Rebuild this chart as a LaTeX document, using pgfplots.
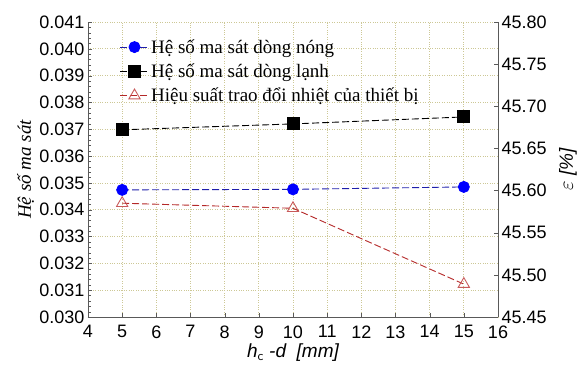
\documentclass[border=0pt]{standalone}
\usepackage{pgfplots}
\pgfplotsset{compat=1.18}
\usepackage{fontspec}
\setmainfont{Liberation Sans}
\newfontfamily\serif{Liberation Serif}
\definecolor{gridc}{RGB}{205,200,150}
\definecolor{bluel}{RGB}{30,30,170}
\definecolor{redl}{RGB}{180,40,40}
\definecolor{redm}{RGB}{200,90,90}
\begin{document}
\begin{tikzpicture}
\begin{axis}[
  at={(0,0)}, anchor=south west,
  scale only axis, width=410bp, height=295bp,
  xmin=4, xmax=16, ymin=0.030, ymax=0.041,
  xtick={4,...,16},
  ytick={0.030,0.031,...,0.0411},
  minor y tick num=4,
  axis y line*=left,
  axis x line*=bottom,
  tick align=inside,
  grid=major,
  major grid style={gridc, dotted, line width=0.8pt},
  axis line style={gray!70!black},
  tick style={gray!70!black},
  /pgf/number format/assume math mode=true,
  yticklabel style={/pgf/number format/.cd, fixed, fixed zerofill, precision=3},
  scaled y ticks=false,
  ticklabel style={font=\fontsize{18bp}{18bp}\selectfont},
  xticklabel style={yshift=-5bp},
  xlabel={\fontsize{19bp}{19bp}\selectfont\itshape h$_{\mathsf c}$ -d\ \ [mm]},
  ylabel={\fontsize{19bp}{19bp}\selectfont\serif\itshape Hệ số ma sát},
  xlabel style={yshift=-1bp, inner sep=1bp},
  ylabel style={yshift=1bp, inner sep=1bp},
  legend style={draw=none, fill=none, at={(0.07,0.955)}, anchor=north west, font=\fontsize{19bp}{20bp}\selectfont\serif, row sep=5bp},
  legend cell align=left,
  legend image code/.code={\draw[#1] (0cm,0cm) -- (1.0cm,0cm); \draw[#1, only marks] plot coordinates {(0.5cm,0cm)};},
]
\addplot[bluel, dash pattern=on 7bp off 3bp, line width=0.9pt, mark=*, mark size=5.5bp, mark options={solid, fill=blue, draw=blue}]
  coordinates {(5,0.03474) (10,0.03476) (15,0.03485)};
\addlegendentry{Hệ số ma sát dòng nóng}
\addplot[black, dash pattern=on 7bp off 3bp, line width=0.9pt, mark=square*, mark size=6bp, mark options={solid, fill=black}]
  coordinates {(5,0.03698) (10,0.03720) (15,0.03746)};
\addlegendentry{Hệ số ma sát dòng lạnh}
\addlegendimage{redl, dash pattern=on 7bp off 3bp, line width=0.9pt, mark=triangle, mark size=6.5bp, mark options={solid, draw=redm, fill=white}}
\addlegendentry{Hiệu suất trao đổi nhiệt của thiết bị}
\end{axis}
\begin{axis}[
  at={(0,0)}, anchor=south west,
  scale only axis, width=410bp, height=295bp,
  xmin=4, xmax=16, ymin=45.45, ymax=45.80,
  ytick={45.45,45.50,...,45.801},
  axis y line*=right,
  axis x line=none,
  tick align=inside,
  axis line style={gray!70!black},
  tick style={gray!70!black},
  /pgf/number format/assume math mode=true,
  yticklabel style={/pgf/number format/.cd, fixed, fixed zerofill, precision=2},
  ticklabel style={font=\fontsize{18bp}{18bp}\selectfont},
  ylabel={\fontsize{19bp}{19bp}\selectfont\itshape $\varepsilon$ [\%]},
  ylabel style={yshift=-8bp, inner sep=1bp},
]
\addplot[redl, dash pattern=on 7bp off 3bp, line width=0.9pt, mark=triangle, mark size=6.5bp, mark options={solid, draw=redm, fill=white}]
  coordinates {(5,45.585) (10,45.579) (15,45.489)};
\end{axis}
\pgfresetboundingbox
\path[use as bounding box] (-88bp,-48bp) rectangle (491bp,317bp);
\end{tikzpicture}
\end{document}
